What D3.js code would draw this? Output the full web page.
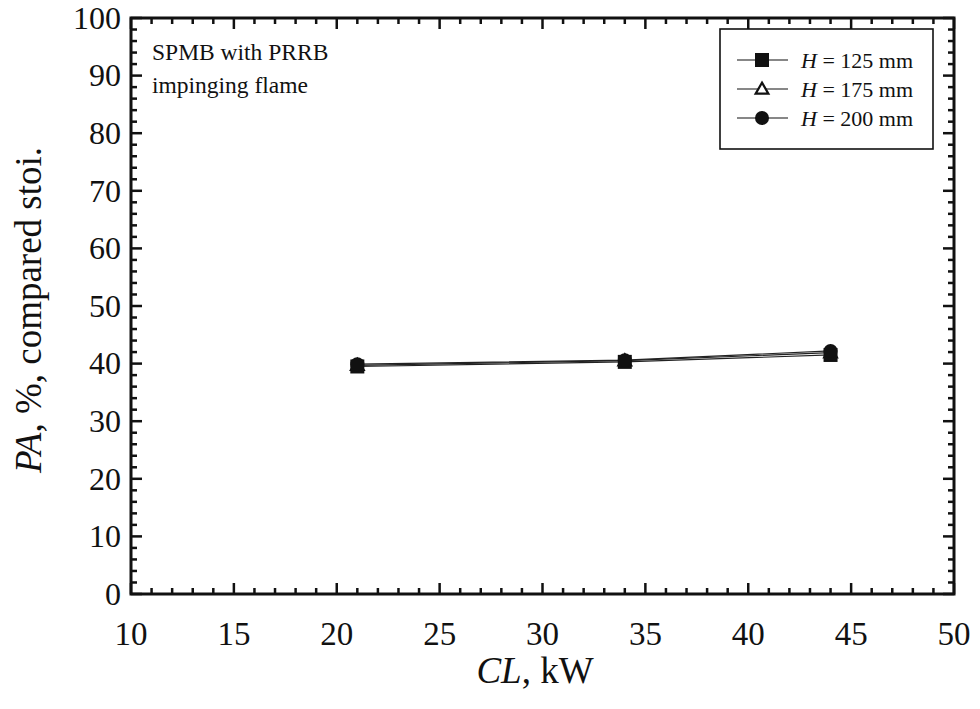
<!DOCTYPE html>
<html>
<head>
<meta charset="utf-8">
<script src="https://d3js.org/d3.v7.min.js"></script>
<style>
  body { margin:0; background:#fff; }
</style>
</head>
<body>
<svg id="chart" width="980" height="709" font-family="'Liberation Serif', 'DejaVu Serif', serif"></svg>
<script>
// data
var load_kw = [21, 34, 44];
var pa_h125 = [39.5, 40.3, 41.5];
var pa_h175 = [39.7, 40.5, 41.9];
var pa_h200 = [39.9, 40.6, 42.2];
var series_names = ["125", "175", "200"];
var series_markers = ["square", "triangle", "circle"];
var x_ticks = [10, 15, 20, 25, 30, 35, 40, 45, 50];
var y_ticks = [0, 10, 20, 30, 40, 50, 60, 70, 80, 90, 100];

var margin = {left:131, right:26, top:18, bottom:115};
var W = 980, H = 709;
var svg = d3.select('#chart');

var x = d3.scaleLinear().domain([10, 50]).range([margin.left, W - margin.right]);
var y = d3.scaleLinear().domain([0, 100]).range([H - margin.bottom, margin.top]);

var x0 = x.range()[0], x1 = x.range()[1];
var y0 = y.range()[0], y1 = y.range()[1];

// frame
svg.append('rect')
    .attr('x', x0).attr('y', y1)
    .attr('width', x1 - x0).attr('height', y0 - y1)
    .attr('fill', 'none').attr('stroke', '#111').attr('stroke-width', 3);

// inward ticks on all four sides
var tick_g = svg.append('g').attr('stroke', '#111').attr('stroke-width', 2.5);
d3.range(10, 50.01, 1).forEach(function(v){
    let major = (v % 5 === 0);
    let len = major ? 11 : 6;
    tick_g.append('line').attr('x1', x(v)).attr('x2', x(v)).attr('y1', y0).attr('y2', y0 - len);
    tick_g.append('line').attr('x1', x(v)).attr('x2', x(v)).attr('y1', y1).attr('y2', y1 + len);
});
d3.range(0, 100.01, 2).forEach(function(v){
    let major = (v % 10 === 0);
    let len = major ? 11 : 6;
    tick_g.append('line').attr('y1', y(v)).attr('y2', y(v)).attr('x1', x0).attr('x2', x0 + len);
    tick_g.append('line').attr('y1', y(v)).attr('y2', y(v)).attr('x1', x1).attr('x2', x1 - len);
});

// tick labels
svg.append('g').selectAll('text').data(x_ticks).enter().append('text')
    .attr('x', d => x(d)).attr('y', y0 + 51)
    .attr('text-anchor', 'middle').attr('font-size', 33).attr('fill', '#111')
    .text(d => d);
svg.append('g').selectAll('text').data(y_ticks).enter().append('text')
    .attr('x', x0 - 10).attr('y', d => y(d)).attr('dy', '0.34em')
    .attr('text-anchor', 'end').attr('font-size', 32).attr('fill', '#111')
    .text(d => d);

// axis titles
var xt = svg.append('text')
    .attr('x', 535).attr('y', 683)
    .attr('text-anchor', 'middle').attr('font-size', 37).attr('fill', '#111');
xt.append('tspan').attr('font-style', 'italic').text('CL');
xt.append('tspan').text(', kW');

var yt = svg.append('text')
    .attr('transform', 'translate(41,310) rotate(-90)')
    .attr('text-anchor', 'middle').attr('font-size', 37).attr('fill', '#111');
yt.append('tspan').attr('font-style', 'italic').text('PA');
yt.append('tspan').text(', %, compared stoi.');

// annotation
svg.append('text').attr('x', 152).attr('y', 60).attr('font-size', 23.5).attr('fill', '#111').text('SPMB with PRRB');
svg.append('text').attr('x', 152).attr('y', 93).attr('font-size', 23.5).attr('fill', '#111').text('impinging flame');

// series
var all_series = [pa_h125, pa_h175, pa_h200];
var line = d3.line().x((d, i) => x(load_kw[i])).y(d => y(d));

function draw_marker(g, kind, cx, cy){
    if (kind === 'square') {
        g.append('rect').attr('x', cx - 7).attr('y', cy - 7).attr('width', 14).attr('height', 14)
            .attr('fill', '#111');
    } else if (kind === 'circle') {
        g.append('circle').attr('cx', cx).attr('cy', cy).attr('r', 7).attr('fill', '#111');
    } else {
        g.append('path')
            .attr('d', d3.symbol().type(d3.symbolTriangle).size(70)())
            .attr('transform', 'translate(' + cx + ',' + (cy + 1) + ')')
            .attr('fill', '#fff').attr('stroke', '#111').attr('stroke-width', 2.2);
    }
}

var order = [1, 0, 2];
order.forEach(function(k){
    svg.append('path').datum(all_series[k])
        .attr('d', line)
        .attr('fill', 'none').attr('stroke', '#222').attr('stroke-width', 1.2);
});
order.forEach(function(k){
    let g = svg.append('g');
    all_series[k].forEach(function(v, i){
        draw_marker(g, series_markers[k], x(load_kw[i]), y(v));
    });
});

// legend
var lg = svg.append('g');
lg.append('rect').attr('x', 720).attr('y', 29).attr('width', 213).attr('height', 120)
    .attr('fill', '#fff').attr('stroke', '#111').attr('stroke-width', 1.6);
series_names.forEach(function(name, i){
    let ly = 60 + i * 29;
    lg.append('line').attr('x1', 737).attr('x2', 788).attr('y1', ly).attr('y2', ly)
        .attr('stroke', '#111').attr('stroke-width', 1.2);
    draw_marker(lg, series_markers[i], 762, ly);
    let t = lg.append('text').attr('x', 801).attr('y', ly).attr('dy', '0.35em')
        .attr('font-size', 22).attr('fill', '#111');
    t.append('tspan').attr('font-style', 'italic').text('H');
    t.append('tspan').text(' = ' + name + ' mm');
});
</script>
</body>
</html>
